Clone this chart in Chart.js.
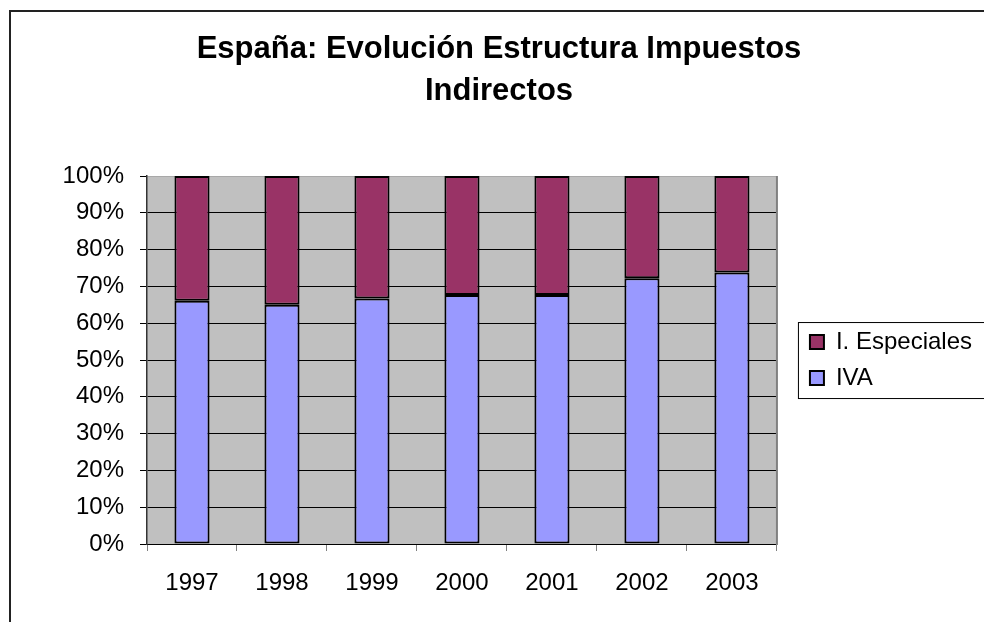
<!DOCTYPE html>
<html>
<head>
<meta charset="utf-8">
<script src="https://cdn.jsdelivr.net/npm/chart.js@4.4.1/dist/chart.umd.min.js"></script>
<style>
  html, body { margin: 0; padding: 0; background: #fff; overflow: hidden; }
  #frame { position: absolute; left: 9px; top: 10px; width: 1100px; height: 700px; border-left: 2px solid #222; border-top: 2px solid #222; }
  #wrap { position: absolute; left: 9px; top: 10px; width: 990px; height: 612px; }
</style>
</head>
<body>
<div id="frame"></div>
<div id="wrap"><canvas id="chart"></canvas></div>
<script>
// datos (porcentaje de cada impuesto)
const years = ["1997", "1998", "1999", "2000", "2001", "2002", "2003"];
const iva = [66.1, 65.0, 66.7, 67.7, 67.7, 72.2, 73.8];
const especiales = [33.9, 35.0, 33.3, 32.3, 32.3, 27.8, 26.2];
const yTicks = [0, 10, 20, 30, 40, 50, 60, 70, 80, 90, 100];

const font = "'Liberation Sans', Arial, sans-serif";

// fondo gris del area de trazado, borde derecho y marco de la leyenda
const excelLook = {
  id: "excelLook",
  beforeDraw(chart) {
    const { ctx, chartArea: a } = chart;
    ctx.save();
    ctx.fillStyle = "#c0c0c0";
    ctx.fillRect(a.left, a.top, a.width, a.height);
    ctx.restore();
  },
  afterDraw(chart) {
    const { ctx, chartArea: a, legend } = chart;
    ctx.save();
    ctx.strokeStyle = "#808080";
    ctx.lineWidth = 2;
    ctx.beginPath();
    ctx.moveTo(a.right, a.top);
    ctx.lineTo(a.right, a.bottom + 1);
    ctx.stroke();

    const boxes = legend.legendHitBoxes;
    if (boxes && boxes.length) {
      const top = boxes[0].top - 8;
      const bottom = boxes[boxes.length - 1].top + boxes[boxes.length - 1].height + 8;
      ctx.strokeStyle = "#000";
      ctx.lineWidth = 1;
      ctx.strokeRect(legend.left + 0.5, top + 0.5, legend.width + 40, bottom - top);
    }
    ctx.restore();
  },
};

const ctx = document.getElementById("chart").getContext("2d");

new Chart(ctx, {
  type: "bar",
  data: {
    labels: years,
    datasets: [
      {
        label: "IVA",
        data: iva,
        backgroundColor: "#9999ff",
        borderColor: "#000",
        borderWidth: 2,
        borderSkipped: false,
      },
      {
        label: "I. Especiales",
        data: especiales,
        backgroundColor: "#993366",
        borderColor: "#000",
        borderWidth: 2,
        borderSkipped: false,
      },
    ],
  },
  options: {
    responsive: true,
    maintainAspectRatio: false,
    animation: false,
    barPercentage: 0.39,
    categoryPercentage: 1,
    layout: { padding: { left: 7, right: 17, top: 0, bottom: 0 } },
    plugins: {
      title: {
        display: true,
        text: ["España: Evolución Estructura Impuestos", "Indirectos"],
        color: "#000",
        font: { family: font, size: 31, weight: "bold", lineHeight: 1.34 },
        padding: { top: 19, bottom: 64 },
      },
      legend: {
        position: "right",
        fullSize: false,
        maxWidth: 300,
        reverse: true,
        labels: {
          color: "#000",
          font: { family: font, size: 24 },
          boxWidth: 14,
          boxHeight: 14,
          padding: 12,
        },
      },
      tooltip: { enabled: false },
    },
    scales: {
      x: {
        stacked: true,
        grid: {
          offset: true,
          drawOnChartArea: false,
          color: "#808080",
          tickLength: 7,
        },
        border: { color: "#000", width: 1 },
        ticks: { color: "#000", font: { family: font, size: 24 }, padding: 18, maxRotation: 0 },
        afterFit: (s) => { s.height = 78; },
      },
      y: {
        stacked: true,
        min: 0,
        max: 100,
        afterBuildTicks: (s) => { s.ticks = yTicks.map((v) => ({ value: v })); },
        grid: {
          color: (c) => (c.tick && c.tick.value === 100 ? "#a8a8a8" : "#000"),
          tickColor: "#000",
          tickLength: 7,
        },
        border: { color: "#333", width: 1.5 },
        ticks: {
          color: "#000",
          font: { family: font, size: 24 },
          padding: 16,
          callback: (v) => v + "%",
        },
        afterFit: (s) => { s.width = 131; },
      },
      yPad: {
        position: "right",
        grid: { display: false },
        border: { display: false },
        ticks: { display: false },
        afterFit: (s) => { s.width = 21; },
      },
    },
  },
  plugins: [excelLook],
});
</script>
</body>
</html>
